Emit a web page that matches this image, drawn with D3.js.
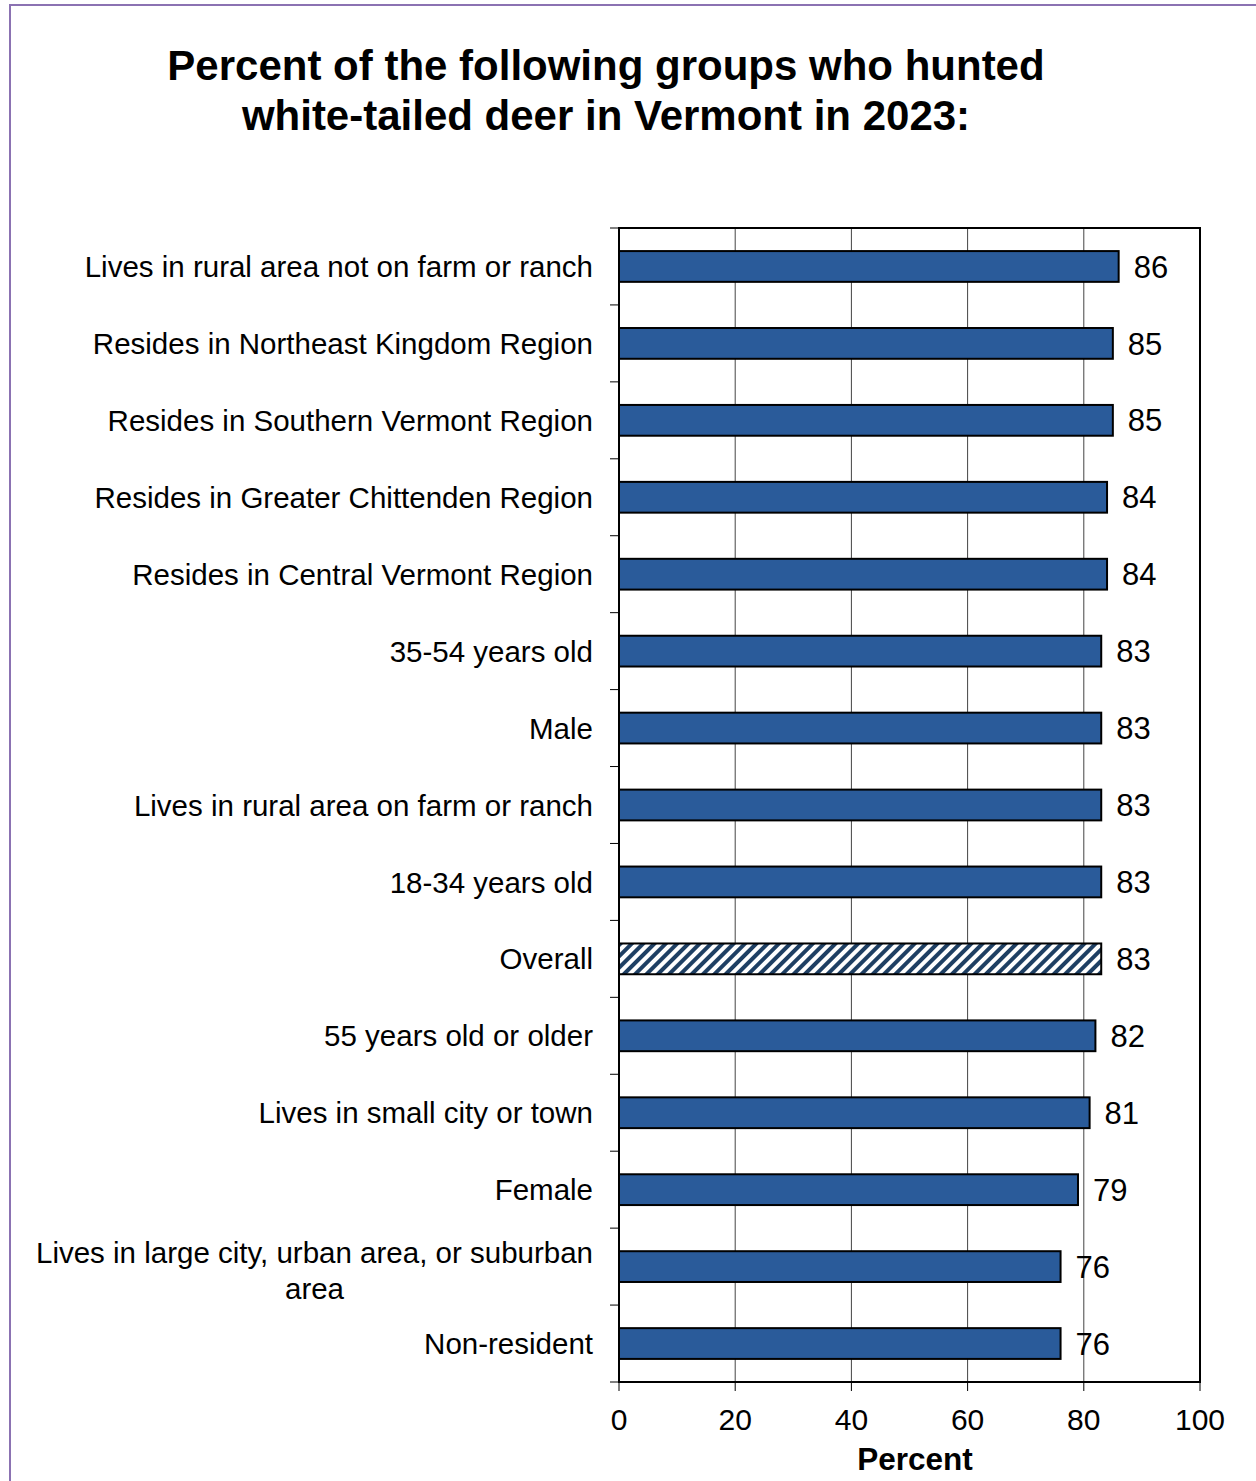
<!DOCTYPE html>
<html>
<head>
<meta charset="utf-8">
<script src="https://cdn.jsdelivr.net/npm/d3@7"></script>
<style>
  html, body { margin: 0; padding: 0; background: #fff; }
  svg { display: block; font-family: "Liberation Sans", Arial, sans-serif; }
</style>
</head>
<body>
<svg id="chart" width="1256" height="1481"></svg>
<script>
// Groups, top to bottom, and the share of each that hunted deer
const groups = [
  "Lives in rural area not on farm or ranch",
  "Resides in Northeast Kingdom Region",
  "Resides in Southern Vermont Region",
  "Resides in Greater Chittenden Region",
  "Resides in Central Vermont Region",
  "35-54 years old",
  "Male",
  "Lives in rural area on farm or ranch",
  "18-34 years old",
  "Overall",
  "55 years old or older",
  "Lives in small city or town",
  "Female",
  "Lives in large city, urban area, or suburban area",
  "Non-resident"
];
const percents = [86, 85, 85, 84, 84, 83, 83, 83, 83, 83, 82, 81, 79, 76, 76];
const highlighted = ["Overall"];
const xTicks = [0, 20, 40, 60, 80, 100];
const titleLines = [
  "Percent of the following groups who hunted",
  "white-tailed deer in Vermont in 2023:"
];
const xTitle = "Percent";

(function draw() {
  const svg = d3.select("#chart");

  // outer frame
  svg.append("rect")
    .attr("x", 10).attr("y", 5)
    .attr("width", 1300).attr("height", 1500)
    .attr("fill", "none")
    .attr("stroke", "#8B72B2")
    .attr("stroke-width", 2);

  // hatch for the overall bar
  const defs = svg.append("defs");
  const pat = defs.append("pattern")
    .attr("id", "hatch")
    .attr("patternUnits", "userSpaceOnUse")
    .attr("width", 8).attr("height", 8)
    .attr("patternTransform", "rotate(45)");
  pat.append("rect").attr("width", 8).attr("height", 8).attr("fill", "#fff");
  pat.append("rect").attr("width", 4).attr("height", 8).attr("fill", "#1E3F63");

  // title
  svg.append("g").selectAll("text")
    .data(titleLines)
    .join("text")
    .attr("x", 606)
    .attr("y", (d, i) => 80 + i * 50)
    .attr("text-anchor", "middle")
    .attr("font-size", 42)
    .attr("font-weight", "bold")
    .attr("fill", "#000")
    .text(d => d);

  const plotL = 619, plotR = 1200, plotT = 228, plotB = 1382;

  const x = d3.scaleLinear().domain([0, 100]).range([plotL, plotR]);
  const y = d3.scaleBand().domain(groups).range([plotT, plotB]).paddingInner(0.6).paddingOuter(0.3);
  const yBand = d3.scaleBand().domain(groups).range([plotT, plotB]);

  // vertical gridlines
  svg.append("g").selectAll("line")
    .data(xTicks.filter(t => t > 0 && t < 100))
    .join("line")
    .attr("x1", d => x(d)).attr("x2", d => x(d))
    .attr("y1", plotT).attr("y2", plotB)
    .attr("stroke", "#444").attr("stroke-width", 1);

  // bars
  svg.append("g").selectAll("rect")
    .data(groups)
    .join("rect")
    .attr("x", x(0))
    .attr("y", d => y(d))
    .attr("width", (d, i) => x(percents[i]) - x(0))
    .attr("height", y.bandwidth())
    .attr("fill", d => highlighted.includes(d) ? "url(#hatch)" : "#2A5B9A")
    .attr("stroke", "#000")
    .attr("stroke-width", 2);

  // value labels
  svg.append("g").selectAll("text")
    .data(groups)
    .join("text")
    .attr("x", (d, i) => x(percents[i]) + 15)
    .attr("y", d => y(d) + y.bandwidth() / 2)
    .attr("dy", "0.36em")
    .attr("font-size", 31)
    .attr("fill", "#000")
    .text((d, i) => percents[i]);

  // plot frame
  svg.append("rect")
    .attr("x", plotL).attr("y", plotT)
    .attr("width", plotR - plotL).attr("height", plotB - plotT)
    .attr("fill", "none")
    .attr("stroke", "#000").attr("stroke-width", 2);

  // y-axis ticks at band boundaries
  const bounds = groups.map(g => yBand(g)).concat([plotB]);
  svg.append("g").selectAll("line")
    .data(bounds)
    .join("line")
    .attr("x1", plotL - 9).attr("x2", plotL)
    .attr("y1", d => d).attr("y2", d => d)
    .attr("stroke", "#000").attr("stroke-width", 1);

  // x-axis ticks and labels
  const xAxis = svg.append("g").attr("transform", `translate(0,${plotB})`);
  xAxis.selectAll("line")
    .data(xTicks)
    .join("line")
    .attr("x1", d => x(d)).attr("x2", d => x(d))
    .attr("y1", 0).attr("y2", 9)
    .attr("stroke", "#000").attr("stroke-width", 1);
  xAxis.selectAll("text")
    .data(xTicks)
    .join("text")
    .attr("x", d => x(d))
    .attr("y", 48)
    .attr("text-anchor", "middle")
    .attr("font-size", 30)
    .attr("fill", "#000")
    .text(d => d);

  svg.append("text")
    .attr("x", 915)
    .attr("y", 1470)
    .attr("text-anchor", "middle")
    .attr("font-size", 31.5)
    .attr("font-weight", "bold")
    .attr("fill", "#000")
    .text(xTitle);

  // category labels, wrapped when wider than the space left of the axis
  const labelRight = 593, maxWidth = 565;
  const catG = svg.append("g");
  groups.forEach(g => {
    const cy = y(g) + y.bandwidth() / 2;
    const t = catG.append("text")
      .attr("font-size", 29.5)
      .attr("fill", "#000");
    t.text(g);
    if (t.node().getComputedTextLength() <= maxWidth) {
      t.attr("x", labelRight).attr("y", cy).attr("dy", "0.36em").attr("text-anchor", "end");
      return;
    }
    const words = g.split(" ");
    const lines = [];
    let cur = [];
    words.forEach(w => {
      t.text(cur.concat([w]).join(" "));
      if (t.node().getComputedTextLength() > maxWidth && cur.length) {
        lines.push(cur.join(" "));
        cur = [w];
      } else {
        cur.push(w);
      }
    });
    lines.push(cur.join(" "));
    t.text(lines[0]);
    const w0 = t.node().getComputedTextLength();
    t.text("");
    const cx = labelRight - w0 / 2;
    const lh = 36;
    t.attr("text-anchor", "middle");
    lines.forEach((ln, i) => {
      t.append("tspan")
        .attr("x", cx)
        .attr("y", cy + 4 + (i - (lines.length - 1) / 2) * lh)
        .attr("dy", "0.36em")
        .text(ln);
    });
  });
})();
</script>
</body>
</html>
